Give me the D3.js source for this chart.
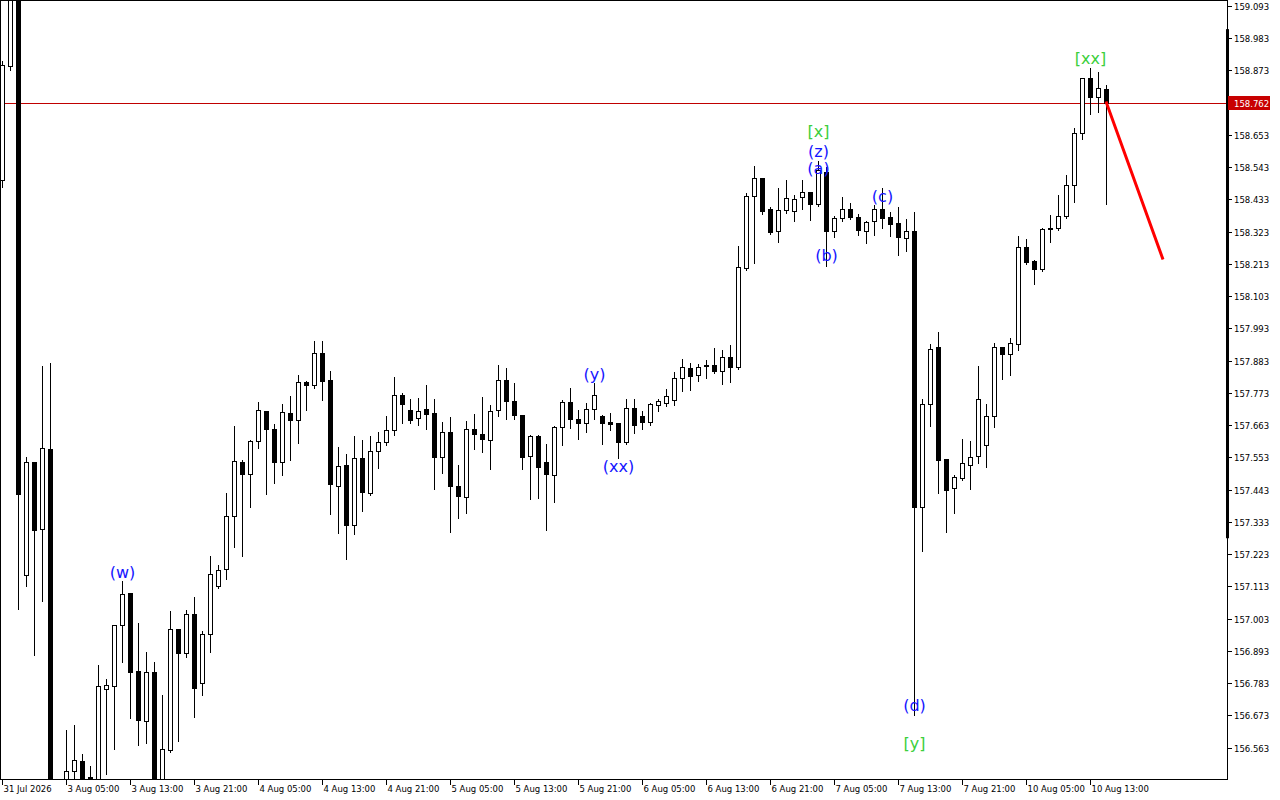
<!DOCTYPE html>
<html><head><meta charset="utf-8">
<script src="https://cdn.jsdelivr.net/npm/d3@7/dist/d3.min.js"></script>
<style>html,body{margin:0;padding:0;background:#fff;}svg{display:block;}</style>
</head><body>
<script>
// ---- DATA (H1 bars, first bar 31 Jul 2026 21:00) ----
const opens = [158.499,158.888,159.147,157.151,157.537,157.308,157.581,156.400,156.410,156.482,
156.516,156.462,156.445,156.762,156.772,156.981,157.090,156.824,156.653,156.820,
156.420,156.554,156.967,156.885,157.018,156.783,156.950,157.114,157.172,157.352,
157.537,157.496,157.608,157.711,157.649,157.537,157.704,157.680,157.810,157.799,
157.909,157.816,157.455,157.526,157.322,157.550,157.431,157.574,157.605,157.646,
157.765,157.714,157.687,157.718,157.704,157.554,157.639,157.455,157.417,157.649,
157.632,157.612,157.714,157.816,157.745,157.697,157.557,157.625,157.537,157.492,
157.656,157.741,157.683,157.670,157.718,157.694,157.673,157.670,157.605,157.721,
157.694,157.673,157.731,157.738,157.748,157.823,157.857,157.834,157.866,157.868,
157.847,157.895,157.861,158.199,158.444,158.506,158.400,158.325,158.396,158.393,
158.441,158.458,158.417,158.526,158.325,158.369,158.400,158.373,158.325,158.359,
158.400,158.373,158.352,158.301,158.325,157.383,157.735,157.929,157.547,157.448,
157.482,157.526,157.557,157.595,157.694,157.929,157.905,157.939,158.270,158.223,
158.195,158.332,158.335,158.376,158.482,158.659,158.847,158.782,158.809];
const highs = [158.908,159.181,159.164,157.557,157.540,157.868,157.878,156.440,156.626,156.643,
156.544,156.503,156.847,156.800,156.984,157.134,157.093,156.991,156.892,156.858,
156.745,157.032,156.970,157.035,157.079,156.963,157.219,157.189,157.434,157.663,
157.547,157.615,157.745,157.714,157.670,157.738,157.765,157.837,157.816,157.953,
157.953,157.851,157.591,157.567,157.629,157.615,157.629,157.642,157.697,157.830,
157.776,157.755,157.759,157.803,157.755,157.677,157.694,157.530,157.680,157.704,
157.762,157.735,157.871,157.861,157.810,157.700,157.632,157.632,157.601,157.663,
157.752,157.793,157.718,157.741,157.810,157.700,157.707,157.673,157.755,157.755,
157.714,157.741,157.755,157.789,157.847,157.892,157.878,157.874,157.888,157.929,
157.922,157.939,158.277,158.458,158.550,158.509,158.410,158.475,158.502,158.451,
158.502,158.461,158.567,158.547,158.379,158.444,158.424,158.386,158.362,158.417,
158.475,158.393,158.410,158.369,158.393,157.755,157.943,157.984,157.547,157.496,
157.619,157.612,157.868,157.738,157.946,157.932,157.963,158.311,158.301,158.229,
158.339,158.383,158.451,158.519,158.680,158.850,158.884,158.871,158.826];
const lows = [158.478,158.878,157.039,157.117,156.882,157.066,156.360,156.300,156.370,156.445,
156.435,156.435,156.435,156.476,156.561,156.858,156.667,156.574,156.581,156.380,
156.380,156.551,156.588,156.875,156.670,156.745,156.892,157.110,157.141,157.250,
157.219,157.387,157.588,157.431,157.468,157.496,157.547,157.605,157.718,157.793,
157.752,157.363,157.298,157.209,157.294,157.373,157.428,157.520,157.598,157.632,
157.673,157.673,157.666,157.653,157.448,157.503,157.301,157.349,157.366,157.584,
157.574,157.516,157.697,157.687,157.687,157.516,157.414,157.417,157.308,157.404,
157.598,157.656,157.619,157.642,157.687,157.601,157.649,157.554,157.601,157.639,
157.653,157.666,157.714,157.731,157.735,157.782,157.786,157.816,157.827,157.844,
157.806,157.813,157.857,158.195,158.219,158.386,158.318,158.291,158.390,158.362,
158.403,158.366,158.414,158.209,158.308,158.362,158.369,158.315,158.287,158.315,
158.338,158.311,158.246,158.260,156.677,157.236,157.663,157.434,157.301,157.366,
157.479,157.448,157.537,157.523,157.660,157.823,157.837,157.922,158.216,158.147,
158.192,158.291,158.332,158.373,158.427,158.642,158.727,158.734,158.420];
const closes = [158.891,159.147,157.428,157.537,157.305,157.584,156.400,156.380,156.482,156.520,
156.445,156.455,156.772,156.776,156.981,157.086,156.820,156.656,156.820,156.420,
156.557,156.967,156.885,157.018,156.766,156.950,157.155,157.168,157.352,157.540,
157.496,157.608,157.714,157.649,157.537,157.707,157.680,157.810,157.799,157.909,
157.813,157.462,157.523,157.322,157.550,157.434,157.574,157.605,157.646,157.765,
157.735,157.680,157.711,157.700,157.554,157.639,157.455,157.421,157.649,157.632,
157.615,157.711,157.816,157.745,157.697,157.554,157.625,157.520,157.496,157.656,
157.741,157.683,157.670,157.718,157.765,157.670,157.666,157.605,157.721,157.663,
157.673,157.735,157.745,157.762,157.823,157.861,157.830,157.861,157.868,157.847,
157.895,157.861,158.202,158.444,158.506,158.393,158.321,158.396,158.437,158.434,
158.458,158.417,158.533,158.325,158.369,158.400,158.373,158.328,158.356,158.400,
158.369,158.349,158.304,158.325,157.383,157.735,157.922,157.543,157.441,157.485,
157.533,157.554,157.752,157.694,157.929,157.905,157.943,158.270,158.219,158.195,
158.332,158.335,158.376,158.482,158.659,158.847,158.782,158.813,158.762];

const timeTickBars = [0,8,16,24,32,40,48,56,64,72,80,88,96,104,112,120,128,136];
const timeTickLabels = ["31 Jul 2026","3 Aug 05:00","3 Aug 13:00","3 Aug 21:00","4 Aug 05:00","4 Aug 13:00",
"4 Aug 21:00","5 Aug 05:00","5 Aug 13:00","5 Aug 21:00","6 Aug 05:00","6 Aug 13:00","6 Aug 21:00",
"7 Aug 05:00","7 Aug 13:00","7 Aug 21:00","10 Aug 05:00","10 Aug 13:00"];
const priceTicks = [159.093,158.983,158.873,158.763,158.653,158.543,158.433,158.323,158.213,158.103,
157.993,157.883,157.773,157.663,157.553,157.443,157.333,157.223,157.113,157.003,156.893,156.783,156.673,156.563];
const currentPrice = 158.762;
const forecastBars = [138, 145];
const forecastPrices = [158.762, 158.233];
const scaleBarRange = [159.014, 157.277];
const waveTexts  = ["(w)","(y)","(xx)","[x]","(z)","(a)","(b)","(c)","(d)","[y]","[xx]"];
const waveBars   = [15, 74, 77, 102, 102, 102, 103, 110, 114, 114, 136];
const wavePrices = [157.161,157.837,157.523,158.666,158.598,158.540,158.240,158.444,156.708,156.578,158.915];
const waveColors = ["#1515ff","#1515ff","#1515ff","#3ccf3c","#1515ff","#1515ff","#1515ff","#1515ff","#1515ff","#3ccf3c","#3ccf3c"];

// ---- CHART ----
const W = 1280, H = 800, plotR = 1227, plotB = 779;
const bars = opens.map((o,i)=>({i, o, h:highs[i], l:lows[i], c:closes[i]}));
const x = d3.scaleLinear().domain([0, 1]).range([2.5, 10.5]);
const y = d3.scaleLinear().domain([156.563, 159.093]).range([747.5, 6]);
const py = v => Math.round(y(v)) + 0.5;

const svg = d3.select("body").append("svg").attr("width", W).attr("height", H)
  .style("font-family", "'DejaVu Sans', sans-serif");
svg.append("rect").attr("width", W).attr("height", H).attr("fill", "#fff");
svg.append("clipPath").attr("id","plot").append("rect").attr("x",0).attr("y",0).attr("width",plotR).attr("height",plotB);

const g = svg.append("g").attr("clip-path","url(#plot)");

// current price line
g.append("line").attr("x1",0).attr("x2",plotR).attr("y1",py(currentPrice)).attr("y2",py(currentPrice))
  .attr("stroke","#c00000").attr("stroke-width",1);

// candles
const cg = g.append("g").attr("shape-rendering","crispEdges");
cg.selectAll("line.wick").data(bars).join("line").attr("class","wick")
  .attr("x1",d=>x(d.i)).attr("x2",d=>x(d.i))
  .attr("y1",d=>py(d.h)).attr("y2",d=>py(d.l)+1)
  .attr("stroke","#000").attr("stroke-width",1);
cg.selectAll("rect.body").data(bars).join("rect").attr("class","body")
  .attr("x",d=>x(d.i)-2).attr("width",4)
  .attr("y",d=>Math.min(py(d.o),py(d.c)))
  .attr("height",d=>Math.max(0.01,Math.abs(py(d.o)-py(d.c))))
  .attr("fill",d=>d.c>=d.o?"#fff":"#000")
  .attr("stroke","#000").attr("stroke-width",1);

// forecast line
g.append("line").attr("x1",x(forecastBars[0])).attr("y1",y(forecastPrices[0]))
  .attr("x2",x(forecastBars[1])).attr("y2",y(forecastPrices[1]))
  .attr("stroke","#ff0000").attr("stroke-width",3).attr("stroke-linecap","square");

// wave labels
g.selectAll("text.wave").data(waveTexts).join("text").attr("class","wave")
  .attr("x",(d,k)=>x(waveBars[k])).attr("y",(d,k)=>y(wavePrices[k]))
  .attr("text-anchor","middle").attr("dominant-baseline","central")
  .attr("font-size",16).attr("fill",(d,k)=>waveColors[k]).text(d=>d);

// frame
const fr = svg.append("g").attr("shape-rendering","crispEdges").attr("stroke","#000");
fr.append("line").attr("x1",0).attr("x2",plotR+1).attr("y1",0.5).attr("y2",0.5);
fr.append("line").attr("x1",0.5).attr("x2",0.5).attr("y1",0).attr("y2",plotB+1);
fr.append("line").attr("x1",plotR+0.5).attr("x2",plotR+0.5).attr("y1",0).attr("y2",plotB+1);
fr.append("line").attr("x1",0).attr("x2",plotR+1).attr("y1",plotB+0.5).attr("y2",plotB+0.5);

// scale bar on axis
svg.append("rect").attr("x",plotR-1).attr("width",3)
  .attr("y",y(scaleBarRange[0])).attr("height",y(scaleBarRange[1])-y(scaleBarRange[0]))
  .attr("fill","#000");

// price axis
const pa = svg.append("g");
pa.selectAll("line").data(priceTicks).join("line")
  .attr("x1",plotR+1).attr("x2",plotR+5).attr("y1",d=>py(d)).attr("y2",d=>py(d))
  .attr("stroke","#000").attr("shape-rendering","crispEdges");
pa.selectAll("text").data(priceTicks).join("text")
  .attr("x",plotR+7).attr("y",d=>py(d)).attr("dominant-baseline","central")
  .attr("font-size",8.5).attr("fill","#000").text(d=>d.toFixed(3));

// current price tag
svg.append("rect").attr("x",plotR+1).attr("y",py(currentPrice)-7.5).attr("width",42).attr("height",14).attr("fill","#c80000");
svg.append("text").attr("x",plotR+7).attr("y",py(currentPrice)).attr("dominant-baseline","central")
  .attr("font-size",8.5).attr("fill","#fff").text(currentPrice.toFixed(3));

// time axis
const ta = svg.append("g");
ta.selectAll("line").data(timeTickBars).join("line")
  .attr("x1",d=>x(d)).attr("x2",d=>x(d)).attr("y1",plotB+1).attr("y2",plotB+6)
  .attr("stroke","#000").attr("shape-rendering","crispEdges");
ta.selectAll("text").data(timeTickLabels).join("text")
  .attr("x",(d,k)=>x(timeTickBars[k])+1).attr("y",plotB+10).attr("dominant-baseline","central")
  .attr("font-size",8.5).attr("fill","#000").text(d=>d);
</script>
</body></html>
